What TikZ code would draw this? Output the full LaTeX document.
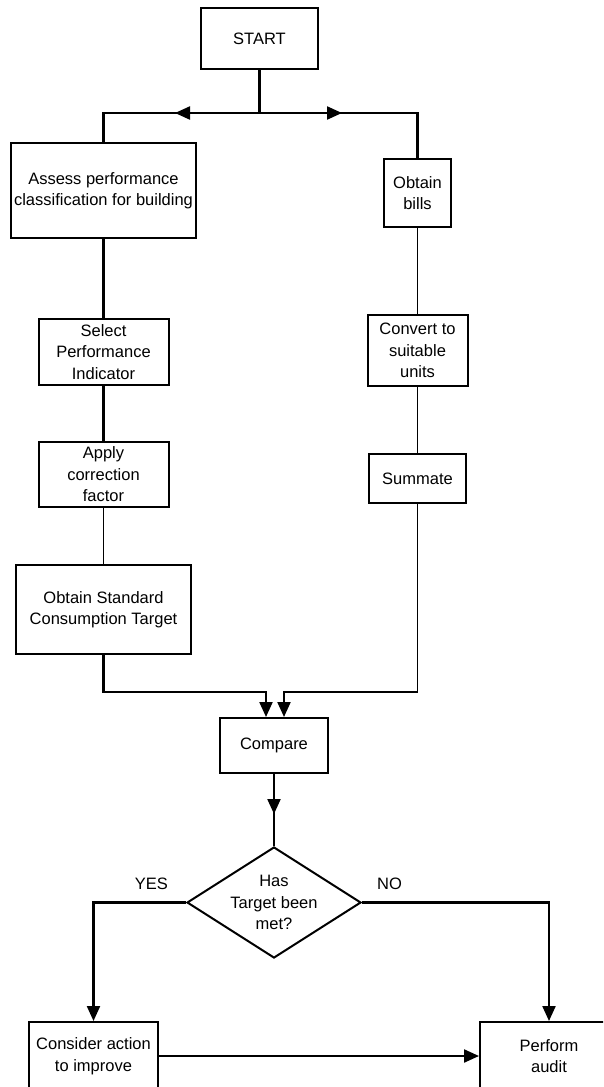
\documentclass[tikz,border=0pt]{standalone}
\usepackage{fontspec}
\setmainfont{Liberation Sans}
\usetikzlibrary{positioning,arrows.meta,shapes.geometric}

\begin{document}
\begin{tikzpicture}[x=1pt, y=1pt,
  > = {Triangle[length=15pt,width=13pt]},
  every node/.style={font=\fontsize{16.5}{21.5}\selectfont},
  box/.style={draw, line width=2pt, align=center, inner sep=0pt},
  flow/.style={line width=2.2pt},
  thin flow/.style={line width=1.4pt},
  tag/.style={inner sep=0pt}]
\clip (0,0) rectangle (603,-1087);

\node (start) [box, minimum width=117pt, minimum height=61pt] at (259.5,-38.5) {START};

\node (assess) [box, minimum width=185pt, minimum height=95pt] at (103.5,-190.5) {Assess performance\\classification for building};
\node (select) [box, minimum width=130pt, minimum height=66pt, below=79pt of assess] {Select\\Performance\\Indicator};
\node (apply) [box, minimum width=130pt, minimum height=65pt, below=55pt of select] {Apply\\correction\\factor};
\node (target) [box, minimum width=175pt, minimum height=89pt, below=56pt of apply] {Obtain Standard\\Consumption Target};

\node (bills) [box, minimum width=67pt, minimum height=68pt] at (417.5,-193) {Obtain\\bills};
\node (convert) [box, minimum width=100pt, minimum height=71pt, below=86pt of bills] {Convert to\\suitable\\units};
\node (summate) [box, minimum width=97pt, minimum height=49pt, below=66pt of convert] {Summate};

\node (compare) [box, minimum width=108pt, minimum height=55pt] at (274,-745.5) {Compare};
\node (met) [box, diamond, aspect=1.57, inner sep=-4pt, minimum width=174pt, minimum height=111pt, below=72pt of compare] {Has\\Target been\\met?};

\node (consider) [box, minimum width=129pt, minimum height=68pt] at (93.5,-1056) {Consider action\\to improve};
\node (audit) [box, minimum width=138pt, minimum height=68pt] at (549,-1056) {Perform\\audit};

\node (yes) [tag, above left=13pt and 18pt of met.west] {YES};
\node (no) [tag, above right=13pt and 15pt of met.east] {NO};

% split below START
\coordinate (split) at ([yshift=-43pt]start.south);
\coordinate (lefttip) at ([xshift=-84.5pt]split);
\coordinate (righttip) at ([xshift=82.5pt]split);
\draw[flow] (start) -- (split);
\draw[flow] (split) -| (assess);
\draw[flow] (split) -| (bills);
\draw[flow,->] (split) -- (lefttip);
\draw[flow,->] (split) -- (righttip);

\draw[flow] (assess) -- (select);
\draw[flow] (select) -- (apply);
\draw[thin flow] (apply) -- (target);

\draw[thin flow] (bills) -- (convert);
\draw[thin flow] (convert) -- (summate);

% both columns join above Compare
\coordinate (join) at ([yshift=25pt]compare.north);
\coordinate (rcorner) at (summate |- join);
\draw[flow,->] (target) |- ([xshift=-8pt]join) -- ([xshift=-8pt]compare.north);
\draw[thin flow] (summate) -- (rcorner);
\draw[flow,->] (rcorner) -| ([xshift=10pt]compare.north);

\coordinate (cmptip) at ([yshift=-40pt]compare.south);
\draw[flow] (compare) -- (met);
\draw[flow,->] (compare) -- (cmptip);

\draw[flow,->] (met) -| (consider);
\draw[flow,->] (met) -| (audit);
\draw[flow,->] (consider) -- (audit);
\end{tikzpicture}
\end{document}
